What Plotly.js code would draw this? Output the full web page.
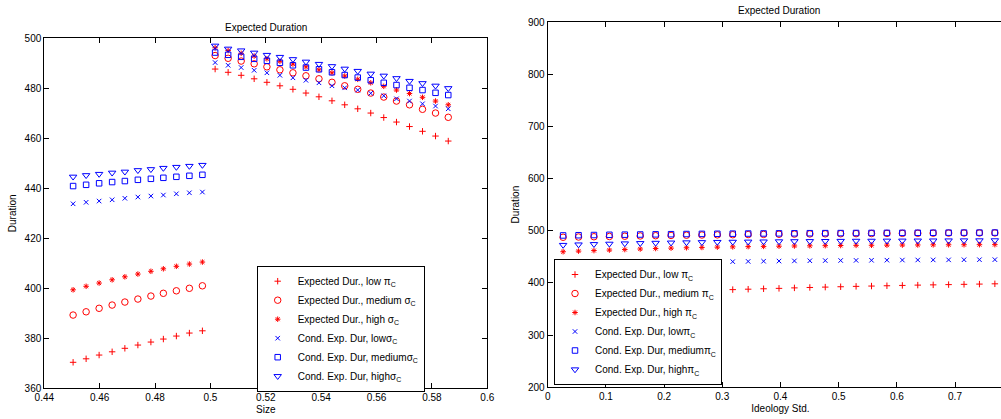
<!DOCTYPE html>
<html><head><meta charset="utf-8">
<script src="https://cdn.plot.ly/plotly-3.0.1.min.js"></script>
<style>html,body{margin:0;padding:0;overflow:hidden;background:#fff}#chart{width:1020px;height:419px}</style>
</head><body><div id="chart"></div>
<script>
// ---- Left panel: Size ----
const sizeX = [0.4504, 0.4551, 0.4598, 0.4645, 0.4691, 0.4738, 0.4785, 0.4830, 0.4877, 0.4924, 0.4971,
  0.5017, 0.5064, 0.5111, 0.5158, 0.5204, 0.5251, 0.5298, 0.5345, 0.5392, 0.5439, 0.5485, 0.5532,
  0.5579, 0.5626, 0.5672, 0.5719, 0.5766, 0.5813, 0.5859];
const sizeExpLow = [370.4, 371.8, 373.3, 374.6, 376.0, 377.3, 378.5, 379.7, 380.9, 382.1, 383.0,
  487.7, 486.4, 485.2, 483.8, 482.4, 481.0, 479.6, 478.1, 476.6, 475.0, 473.4, 471.8, 470.1, 468.3, 466.5, 464.7, 462.8, 460.9, 458.9];
const sizeExpMed = [389.3, 390.6, 392.0, 393.3, 394.5, 395.7, 396.9, 398.0, 399.0, 400.0, 401.0,
  493.1, 492.0, 490.9, 489.8, 488.6, 487.4, 486.2, 485.0, 483.8, 482.4, 481.0, 479.6, 478.1, 476.5, 474.9, 473.4, 471.6, 470.1, 468.4];
const sizeExpHigh = [399.4, 400.8, 402.1, 403.4, 404.6, 405.7, 406.8, 407.8, 408.8, 409.7, 410.5,
  496.2, 495.1, 494.0, 492.9, 491.8, 490.8, 489.7, 488.6, 487.4, 486.2, 484.9, 483.6, 482.2, 480.8, 479.3, 477.9, 476.4, 474.9, 473.4];
const sizeCondLow = [433.8, 434.4, 434.9, 435.4, 436.0, 436.5, 436.9, 437.3, 437.8, 438.2, 438.5,
  490.3, 489.2, 488.3, 487.2, 486.2, 485.2, 484.2, 483.2, 482.2, 481.0, 480.2, 479.3, 478.0, 477.0, 475.8, 474.9, 473.8, 472.9, 471.8];
const sizeCondMed = [440.9, 441.4, 442.0, 442.5, 442.9, 443.4, 443.8, 444.2, 444.6, 445.0, 445.4,
  494.3, 493.4, 492.6, 491.8, 491.0, 490.2, 489.2, 488.3, 487.6, 486.4, 485.3, 484.3, 483.2, 482.2, 481.3, 480.2, 479.3, 478.2, 477.3];
const sizeCondHigh = [444.6, 445.2, 445.7, 446.2, 446.6, 447.2, 447.6, 448.1, 448.5, 448.9, 449.3,
  497.0, 495.8, 495.1, 494.2, 493.3, 492.5, 491.6, 490.6, 489.7, 488.8, 487.8, 486.9, 485.8, 485.0, 484.0, 482.9, 482.0, 481.0, 480.0];

// ---- Right panel: Ideology Std. ----
const ideoX = [0.0265, 0.0530, 0.0795, 0.1060, 0.1325, 0.1590, 0.1855, 0.2120, 0.2385, 0.2650,
  0.2915, 0.3180, 0.3445, 0.3710, 0.3975, 0.4240, 0.4505, 0.4770, 0.5035, 0.5300, 0.5565,
  0.5830, 0.6095, 0.6360, 0.6625, 0.6890, 0.7155, 0.7420, 0.7685];
const ideoExpLow = [365.0, 369.0, 372.5, 375.5, 378.0, 380.0, 381.7, 383.2, 384.5, 385.6, 386.5,
  387.2, 388.0, 388.8, 389.6, 390.5, 391.3, 392.0, 392.7, 393.4, 394.0, 394.6, 395.2, 395.8, 396.3, 396.8, 397.3, 397.8, 398.3];
const ideoExpMed = [487.5, 488.0, 488.5, 489.0, 489.5, 490.0, 490.5, 491.0, 491.4, 491.8, 492.1, 492.4, 492.7, 493.0,
  493.3, 493.6, 493.9, 494.1, 494.3, 494.5, 494.7, 494.9, 495.0, 495.2, 495.3, 495.5, 495.6, 495.7, 495.8];
const ideoExpHigh = [459.8, 461.0, 462.0, 463.0, 464.0, 465.0, 466.0, 466.7, 467.4, 468.0, 468.6, 469.1, 469.6, 470.0,
  470.4, 470.8, 471.1, 471.4, 471.7, 472.0, 472.2, 472.4, 472.6, 472.8, 473.0, 473.1, 473.2, 473.3, 473.4];
const ideoCondLow = [420.0, 424.0, 427.5, 430.0, 432.0, 434.0, 435.5, 437.0, 438.0, 439.0, 440.0,
  440.8, 441.2, 441.6, 441.9, 442.2, 442.5, 442.8, 443.0, 443.2, 443.4, 443.6, 443.8, 444.0, 444.1, 444.2, 444.4, 444.5, 444.6];
const ideoCondMed = [491.0, 491.4, 491.8, 492.2, 492.5, 492.8, 493.1, 493.4, 493.7, 494.0, 494.2, 494.4, 494.6, 494.8,
  495.0, 495.1, 495.3, 495.4, 495.5, 495.7, 495.8, 495.9, 496.0, 496.1, 496.2, 496.3, 496.4, 496.4, 496.5];
const ideoCondHigh = [472.6, 473.5, 474.2, 474.9, 475.5, 476.1, 476.6, 477.1, 477.5, 477.9, 478.3, 478.6, 478.9, 479.2,
  479.5, 479.7, 479.9, 480.1, 480.3, 480.5, 480.6, 480.8, 480.9, 481.0, 481.1, 481.2, 481.3, 481.4, 481.5];

// ---- Labels and ticks ----
const leftNames = ['Expected Dur., low \u03c0<sub>C</sub>', 'Expected Dur., medium \u03c3<sub>C</sub>',
  'Expected Dur., high \u03c3<sub>C</sub>', 'Cond. Exp. Dur, low\u03c3<sub>C</sub>',
  'Cond. Exp. Dur, medium\u03c3<sub>C</sub>', 'Cond. Exp. Dur, high\u03c3<sub>C</sub>'];
const rightNames = ['Expected Dur., low \u03c0<sub>C</sub>', 'Expected Dur., medium \u03c0<sub>C</sub>',
  'Expected Dur., high \u03c0<sub>C</sub>', 'Cond. Exp. Dur, low\u03c0<sub>C</sub>',
  'Cond. Exp. Dur, medium\u03c0<sub>C</sub>', 'Cond. Exp. Dur, high\u03c0<sub>C</sub>'];
const sizeTickVals = [0.44, 0.46, 0.48, 0.5, 0.52, 0.54, 0.56, 0.58, 0.6];
const sizeTickText = ['0.44', '0.46', '0.48', '0.5', '0.52', '0.54', '0.56', '0.58', '0.6'];
const durTickVals = [360, 380, 400, 420, 440, 460, 480, 500];
const ideoTickVals = [0, 0.1, 0.2, 0.3, 0.4, 0.5, 0.6, 0.7, 0.8];
const ideoTickText = ['0', '0.1', '0.2', '0.3', '0.4', '0.5', '0.6', '0.7', '0.8'];
const dur2TickVals = [200, 300, 400, 500, 600, 700, 800, 900];

const RED = '#ff0000', BLUE = '#0000ff';
const styles = [
  {symbol: 'cross-thin-open', color: RED, size: 4.6},
  {symbol: 'circle-open', color: RED, size: 6.5},
  {symbol: 'asterisk-open', color: RED, size: 4.6},
  {symbol: 'x-thin-open', color: BLUE, size: 4.5},
  {symbol: 'square-open', color: BLUE, size: 5.5},
  {symbol: 'triangle-down-open', color: BLUE, size: 6.5}
];
const leftSeries = [sizeExpLow, sizeExpMed, sizeExpHigh, sizeCondLow, sizeCondMed, sizeCondHigh];
const rightSeries = [ideoExpLow, ideoExpMed, ideoExpHigh, ideoCondLow, ideoCondMed, ideoCondHigh];

const traces = [];
leftSeries.forEach((ys, i) => traces.push({
  type: 'scatter', mode: 'markers', x: sizeX, y: ys, name: leftNames[i],
  xaxis: 'x', yaxis: 'y', legend: 'legend', cliponaxis: false,
  marker: {symbol: styles[i].symbol, size: styles[i].size, color: styles[i].color,
           line: {color: styles[i].color, width: 1}}
}));
rightSeries.forEach((ys, i) => traces.push({
  type: 'scatter', mode: 'markers', x: ideoX, y: ys, name: rightNames[i],
  xaxis: 'x2', yaxis: 'y2', legend: 'legend2', cliponaxis: false,
  marker: {symbol: styles[i].symbol, size: styles[i].size, color: styles[i].color,
           line: {color: styles[i].color, width: 1}}
}));

const W = 1020, H = 419;
const FONT = {family: 'Liberation Sans, Arial, Helvetica, sans-serif', size: 10, color: '#000'};
const axisBase = {
  showline: true, linecolor: '#000', linewidth: 1, mirror: 'ticks', ticks: 'inside',
  ticklen: 5, tickcolor: '#000', showgrid: false, zeroline: false, tickfont: FONT,
  fixedrange: true
};
const layout = {
  width: W, height: H, margin: {l: 0, r: 0, t: 0, b: 0},
  paper_bgcolor: '#fff', plot_bgcolor: '#fff', font: FONT, showlegend: true,
  xaxis: Object.assign({}, axisBase, {domain: [44.3 / W, 487.3 / W], range: [0.44, 0.6],
    tickmode: 'array', tickvals: sizeTickVals, ticktext: sizeTickText, anchor: 'y',
    title: {text: 'Size', font: FONT, standoff: 3}}),
  yaxis: Object.assign({}, axisBase, {domain: [(H - 388.3) / H, (H - 38.3) / H], range: [360, 500],
    tickmode: 'array', tickvals: durTickVals, anchor: 'x',
    title: {text: 'Duration', font: FONT, standoff: 6}}),
  xaxis2: Object.assign({}, axisBase, {domain: [547.7 / W, 1013.2 / W], range: [0, 0.8],
    tickmode: 'array', tickvals: ideoTickVals, ticktext: ideoTickText, anchor: 'y2',
    title: {text: 'Ideology Std.', font: FONT, standoff: 3}}),
  yaxis2: Object.assign({}, axisBase, {domain: [(H - 387.3) / H, (H - 22) / H], range: [200, 900],
    tickmode: 'array', tickvals: dur2TickVals, anchor: 'x2',
    title: {text: 'Duration', font: FONT, standoff: 6}}),
  legend: {x: 256.7 / W, y: (H - 265.7) / H, xanchor: 'left', yanchor: 'top', xref: 'paper', yref: 'paper',
    bgcolor: '#fff', bordercolor: '#000', borderwidth: 1, font: FONT},
  legend2: {x: 554 / W, y: (H - 259) / H, xanchor: 'left', yanchor: 'top', xref: 'paper', yref: 'paper',
    bgcolor: '#fff', bordercolor: '#000', borderwidth: 1, font: FONT},
  annotations: [
    {text: 'Expected Duration', xref: 'paper', yref: 'paper', x: 265.8 / W, y: (H - 27.7) / H,
     xanchor: 'center', yanchor: 'middle', showarrow: false, font: FONT},
    {text: 'Expected Duration', xref: 'paper', yref: 'paper', x: 778.7 / W, y: (H - 10.3) / H,
     xanchor: 'center', yanchor: 'middle', showarrow: false, font: FONT}
  ]
};
Plotly.newPlot('chart', traces, layout, {staticPlot: true, displayModeBar: false});
</script></body></html>
